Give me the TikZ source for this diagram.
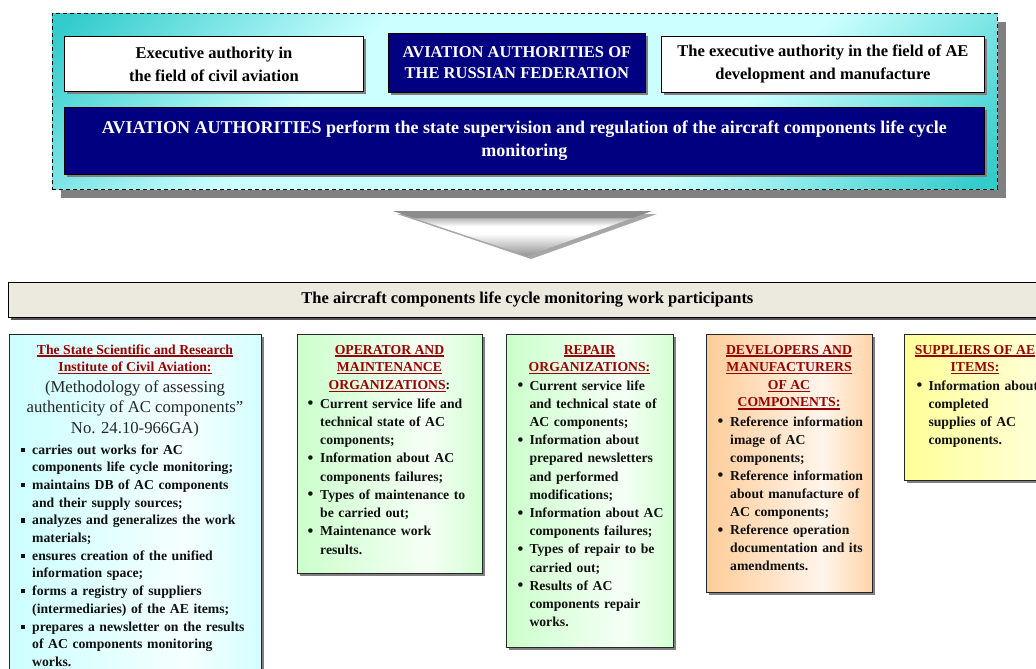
\documentclass[tikz,border=0pt]{standalone}
\usepackage{fontspec}
\setmainfont{Liberation Serif}
\usetikzlibrary{shadows}
\definecolor{navyc}{HTML}{000080}
\definecolor{tealc}{HTML}{33CCCC}
\definecolor{lightc}{HTML}{CCFFFF}
\definecolor{beigec}{HTML}{ECE9DF}
\definecolor{tred}{HTML}{990000}
\definecolor{cyanc}{HTML}{CCFFFF}
\definecolor{greenc}{HTML}{CCFFCC}
\definecolor{peachc}{HTML}{FFCC99}
\definecolor{yellc}{HTML}{FFFF99}
\definecolor{shc}{HTML}{808080}
\definecolor{shd2}{HTML}{555555}
\definecolor{txtc}{HTML}{111111}
\definecolor{mtxt}{HTML}{262626}
\pgfdeclarehorizontalshading{topsh}{100bp}{color(0bp)=(tealc); color(16bp)=(tealc); color(36bp)=(lightc); color(64bp)=(lightc); color(84bp)=(tealc); color(100bp)=(tealc)}
\pgfdeclareverticalshading{arrsh}{100bp}{color(0bp)=(gray!85); color(25bp)=(gray!85); color(50bp)=(white); color(58bp)=(white); color(67bp)=(gray!55); color(68bp)=(gray!90); color(75bp)=(gray!90); color(100bp)=(gray!90)}
\newcommand{\mkcolsh}[2]{\pgfdeclarehorizontalshading{#1}{100bp}{color(0bp)=(#2); color(25bp)=(#2); color(60bp)=(#2!20); color(75bp)=(#2!85); color(100bp)=(#2!85)}}
\mkcolsh{cyansh}{cyanc}
\mkcolsh{greensh}{greenc}
\mkcolsh{peachsh}{peachc}
\pgfdeclarehorizontalshading{yellsh}{100bp}{color(0bp)=(yellc); color(25bp)=(yellc); color(75bp)=(yellc!35); color(100bp)=(yellc!35)}
\newsavebox\ulbx
\newcommand{\ulin}[1]{\sbox\ulbx{#1}\rlap{\rule[-2.8pt]{\wd\ulbx}{1.4pt}}\usebox\ulbx}
\newdimen\bhi
\newcommand{\bigbullet}{\raisebox{-0.6pt}{\fontsize{16.5}{16.5}\selectfont\textbullet}}
\newcommand{\bul}[1]{\hangindent=\bhi\hangafter=1\noindent\hbox to \bhi{\bigbullet\hfil}#1\par}
\newcommand{\bsq}[1]{\hangindent=\bhi\hangafter=1\noindent\hbox to \bhi{\rule[2.2pt]{4.2pt}{4.2pt}\hfil}#1\par}
\tikzset{
  shd/.style={drop shadow={shadow xshift=#1, shadow yshift=-#1, fill=shc, opacity=1}},
  shd/.default=3pt,
  topbox/.style={draw=black, line width=0.8pt, anchor=north west, inner sep=0pt, align=center, shd},
  wbox/.style={topbox, fill=white, text=black, font=\bfseries\fontsize{16.5}{23}\selectfont},
  nbox/.style={topbox, fill=navyc, text=white, font=\bfseries\fontsize{16.5}{23}\selectfont},
  colbox/.style={draw=black!85, line width=0.8pt, anchor=north west, inner sep=0pt, shd, shade},
  ttl/.style={anchor=base, align=center, inner sep=0pt, text=tred, font=\bfseries\fontsize{13.7}{17.6}\selectfont},
  btxt/.style={anchor=base west, inner sep=0pt, text width=240pt, align=left, text=txtc, font=\bfseries\fontsize{13.7}{#1}\selectfont},
}
\begin{document}
\begin{tikzpicture}[x=1pt,y=1pt]
\useasboundingbox (0,0) rectangle (1036,-669);
% top group
\node[anchor=north west, inner sep=0pt, minimum width=945pt, minimum height=176pt, draw=black, line width=0.8pt, dash pattern=on 4pt off 3pt, shade, shading=topsh, shading angle=-45, shd=9pt] (outer) at (52,-13) {};
\node[wbox, minimum width=299pt, minimum height=55pt] (exec) at (64,-36) {Executive authority in\\the field of civil aviation};
\node[nbox, minimum width=257pt, minimum height=59pt, font=\bfseries\fontsize{16.5}{21}\selectfont] (aarf) at (388,-33) {AVIATION AUTHORITIES OF\\THE RUSSIAN FEDERATION};
\node[wbox, minimum width=323pt, minimum height=56pt] (eae) at (661,-36) {The executive authority in the field of AE\\development and manufacture};
\node[nbox, minimum width=920pt, minimum height=67pt, font=\bfseries\fontsize{18}{23}\selectfont] (big) at (64,-107) {AVIATION AUTHORITIES perform the state supervision and regulation of the aircraft components life cycle\\monitoring};
% arrow
\fill[gray!70] (397,-214) -- (657,-214) -- (531,-259) -- cycle;
\shade[shading=arrsh] (393,-211) -- (652,-211) -- (527,-256) -- cycle;
% banner
\node[anchor=north west, inner sep=0pt, minimum width=1038pt, minimum height=35pt, draw=black, line width=0.8pt, fill=beigec, drop shadow={shadow xshift=3pt, shadow yshift=-3pt, fill=shd2, opacity=1}, font=\bfseries\fontsize{16.5}{20}\selectfont] (banner) at (8,-282) {The aircraft components life cycle monitoring work participants};
% columns
\node[colbox, shading=cyansh, minimum width=252pt, minimum height=350pt] (c1) at (9,-334) {};
\node[colbox, shading=greensh, minimum width=185pt, minimum height=239pt] (c2) at (297,-334) {};
\node[colbox, shading=greensh, minimum width=167pt, minimum height=313pt] (c3) at (506,-334) {};
\node[colbox, shading=peachsh, minimum width=166pt, minimum height=258pt] (c4) at (706,-334) {};
\node[colbox, shading=yellsh, minimum width=145pt, minimum height=146pt] (c5) at (904,-334) {};
% column 1
\node[ttl] (t1) at (135,-371.6) {\ulin{The State Scientific and Research}\\\ulin{Institute of Civil Aviation:}};
\node[anchor=base, align=center, inner sep=0pt, text=mtxt, font=\fontsize{16.7}{20.5}\selectfont] (m1) at (135,-433) {(Methodology of assessing\\authenticity of AC components”\\No. 24.10-966GA)};
\node[btxt=17.7] (b1) at (21,-454) {\bhi=11pt
\bsq{carries out works for AC\newline components life cycle monitoring;}
\bsq{maintains DB of AC components\newline and their supply sources;}
\bsq{analyzes and generalizes the work\newline materials;}
\bsq{ensures creation of the unified\newline information space;}
\bsq{forms a registry of suppliers\newline (intermediaries) of the AE items;}
\bsq{prepares a newsletter on the results\newline of AC components monitoring\newline works.}};
% column 2
\node[ttl] (t2) at (389.5,-389.2) {\ulin{OPERATOR AND}\\\ulin{MAINTENANCE}\\\ulin{ORGANIZATIONS}\textcolor{txtc}{:}};
\node[btxt=18.25] (b2) at (307.5,-408) {\bhi=12.5pt
\bul{Current service life and\newline technical state of AC\newline components;}
\bul{Information about AC\newline components failures;}
\bul{Types of maintenance to\newline be carried out;}
\bul{Maintenance work\newline results.}};
% column 3
\node[ttl] (t3) at (589.5,-371.6) {\ulin{REPAIR}\\\ulin{ORGANIZATIONS:}};
\node[btxt=18.2] (b3) at (517.5,-390) {\bhi=11.8pt
\bul{Current service life\newline and technical state of\newline AC components;}
\bul{Information about\newline prepared newsletters\newline and performed\newline modifications;}
\bul{Information about AC\newline components failures;}
\bul{Types of repair to be\newline carried out;}
\bul{Results of AC\newline components repair\newline works.}};
% column 4
\node[ttl] (t4) at (789,-406.8) {\ulin{DEVELOPERS AND}\\\ulin{MANUFACTURERS}\\\ulin{OF AC}\\\ulin{COMPONENTS:}};
\node[btxt=18.1] (b4) at (717.5,-426) {\bhi=12.5pt
\bul{Reference information\newline image of AC\newline components;}
\bul{Reference information\newline about manufacture of\newline AC components;}
\bul{Reference operation\newline documentation and its\newline amendments.}};
% column 5
\node[ttl] (t5) at (975,-371.6) {\ulin{SUPPLIERS OF AE}\\\ulin{ITEMS:}};
\node[btxt=18.3] (b5) at (916.5,-390) {\bhi=11.8pt
\bul{Information about\newline completed\newline supplies of AC\newline components.}};
\end{tikzpicture}
\end{document}
